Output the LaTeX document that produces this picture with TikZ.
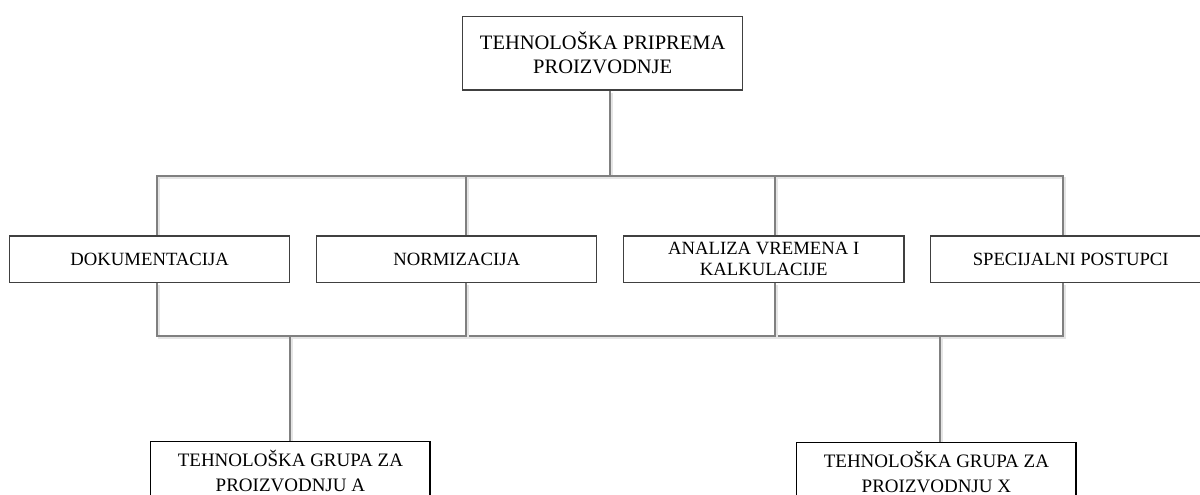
\documentclass[tikz,border=0pt]{standalone}
\usepackage{fontspec}
\setmainfont{Liberation Serif}
\usetikzlibrary{backgrounds}
\begin{document}
\begin{tikzpicture}[x=1pt,y=-1pt,
  box/.style={draw=black!75, line width=1.2pt, fill=white, inner sep=0pt, align=center,
    minimum width=280pt, minimum height=46.5pt, font=\fontsize{18.7}{21}\selectfont},
  topbox/.style={box, minimum height=73.3pt, font=\fontsize{20.5}{24}\selectfont},
  lowbox/.style={box, draw=black, minimum width=279.3pt, minimum height=58pt, font=\fontsize{19}{25}\selectfont},
  conn/.style={draw=black!50, line width=1.5pt,
    preaction={draw=black!10, line width=1.5pt, transform canvas={xshift=2pt,yshift=-2pt}}}]
\useasboundingbox (0,0) rectangle (1200,495);
\clip (0,0) rectangle (1200,495);
% nodes
\node[topbox] (top) at (602.7,53.3) {TEHNOLOŠKA PRIPREMA\\PROIZVODNJE};
\node[box] (dok) at (149.7,259.2) {DOKUMENTACIJA};
\node[box] (norm) at (456.7,259.2) {NORMIZACIJA};
\node[box, minimum width=280.7pt] (anal) at (763.7,259.2) {ANALIZA VREMENA I\\KALKULACIJE};
\node[box] (spec) at (1070.7,259.2) {SPECIJALNI POSTUPCI};
\node[lowbox] (ga) at (290.4,470.7) {TEHNOLOŠKA GRUPA ZA\\PROIZVODNJU A};
\node[lowbox] (gx) at (936.4,471.7) {TEHNOLOŠKA GRUPA ZA\\PROIZVODNJU X};
% junction coordinates
\coordinate (jt) at (610,176);
\coordinate (j1) at (157,176);
\coordinate (j2) at (466,176);
\coordinate (j3) at (775,176);
\coordinate (j4) at (1063,176);
\coordinate (k1) at (157,336);
\coordinate (k2) at (466,336);
\coordinate (k3) at (775,336);
\coordinate (k4) at (1063,336);
\coordinate (ka) at (290,336);
\coordinate (kx) at (940,336);
% connectors
\begin{scope}[on background layer]
\draw[conn] (jt |- top.south) -- (jt);
\draw[conn] (j1 |- dok.north) -- (j1) -- (j4) -- (j4 |- spec.north);
\draw[conn] (j2) -- (j2 |- norm.north);
\draw[conn] (j3) -- (j3 |- anal.north);
\draw[conn] (k1 |- dok.south) -- (k1) -- (k4) -- (k4 |- spec.south);
\draw[conn] (k2 |- norm.south) -- (k2);
\draw[conn] (k3 |- anal.south) -- (k3);
\draw[conn] (ka) -- (ka |- ga.north);
\draw[conn] (kx) -- (kx |- gx.north);
\end{scope}
\end{tikzpicture}
\end{document}
